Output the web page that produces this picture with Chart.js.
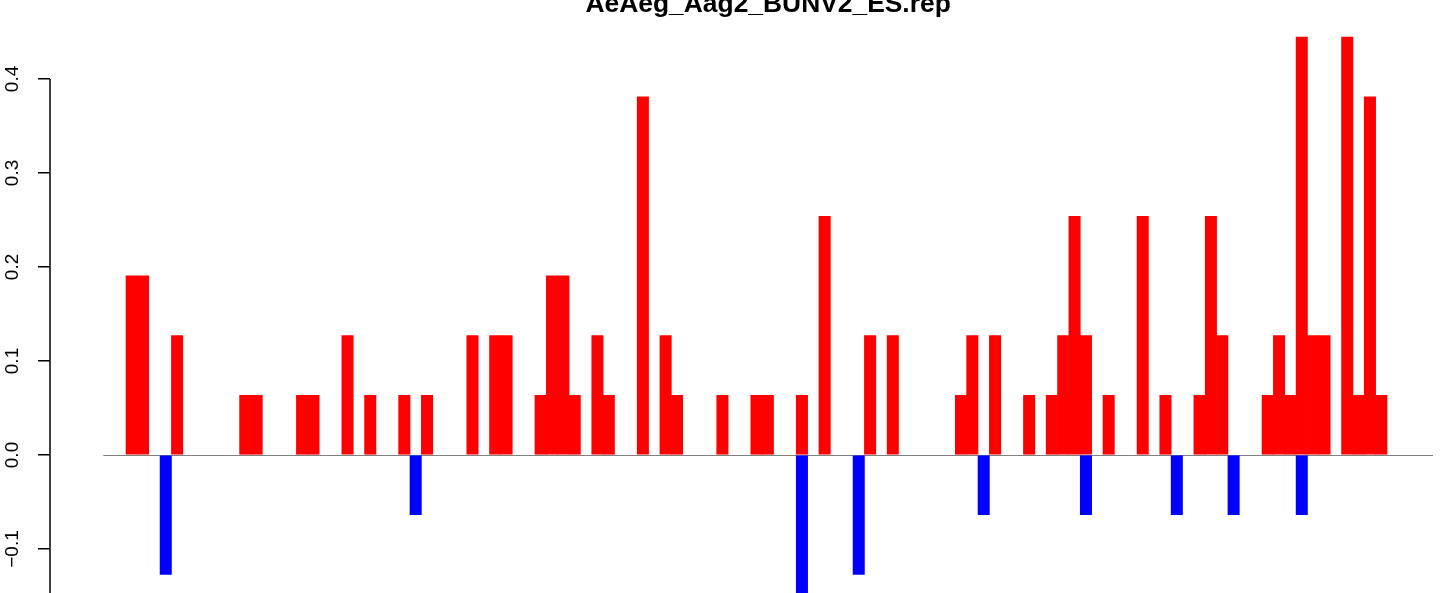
<!DOCTYPE html>
<html>
<head>
<meta charset="utf-8">
<script src="https://cdn.jsdelivr.net/npm/chart.js@4.4.1/dist/chart.umd.min.js"></script>
<style>
  html, body { margin: 0; padding: 0; background: #fff; }
  #wrap { width: 1444px; height: 593px; position: relative; }
</style>
</head>
<body>
<div id="wrap"><canvas id="myChart"></canvas></div>
<script>
const title = 'AeAeg_Aag2_BUNV2_ES.rep';

// one slot per position, 111 slots
const positions = Array.from({length: 111}, (_, i) => i);

// red bars (positive), by slot
const redValues = [
  0.1905, 0.1905, null, null, 0.127, null, null, null, null, null,
  0.0635, 0.0635, null, null, null, 0.0635, 0.0635, null, null, 0.127,
  null, 0.0635, null, null, 0.0635, null, 0.0635, null, null, null,
  0.127, null, 0.127, 0.127, null, null, 0.0635, 0.1905, 0.1905, 0.0635,
  null, 0.127, 0.0635, null, null, 0.381, null, 0.127, 0.0635, null,
  null, null, 0.0635, null, null, 0.0635, 0.0635, null, null, 0.0635,
  null, 0.254, null, null, null, 0.127, null, 0.127, null, null,
  null, null, null, 0.0635, 0.127, null, 0.127, null, null, 0.0635,
  null, 0.0635, 0.127, 0.254, 0.127, null, 0.0635, null, null, 0.254,
  null, 0.0635, null, null, 0.0635, 0.254, 0.127, null, null, null,
  0.0635, 0.127, 0.0635, 0.4445, 0.127, 0.127, null, 0.4445, 0.0635, 0.381,
  0.0635
];

// blue bars (negative), by slot
const blueValues = [
  null, null, null, -0.127, null, null, null, null, null, null,
  null, null, null, null, null, null, null, null, null, null,
  null, null, null, null, null, -0.0635, null, null, null, null,
  null, null, null, null, null, null, null, null, null, null,
  null, null, null, null, null, null, null, null, null, null,
  null, null, null, null, null, null, null, null, null, -0.19,
  null, null, null, null, -0.127, null, null, null, null, null,
  null, null, null, null, null, -0.0635, null, null, null, null,
  null, null, null, null, -0.0635, null, null, null, null, null,
  null, null, -0.0635, null, null, null, null, -0.0635, null, null,
  null, null, null, -0.0635, null, null, null, null, null, null,
  null
];

const yTicks = [-0.1, 0, 0.1, 0.2, 0.3, 0.4];

const FONT = 'Liberation Sans, Arial, Helvetica, sans-serif';

const rPlot = {
  id: 'rPlot',
  beforeDatasetsDraw(chart) {
    const {ctx, chartArea, scales: {x, y}} = chart;
    // zero line, starting two slots before the first bar
    ctx.save();
    ctx.strokeStyle = '#808080';
    ctx.lineWidth = 1;
    ctx.beginPath();
    ctx.moveTo(x.getPixelForValue(positions[0] - 2.5), Math.round(y.getPixelForValue(0)) + 0.5);
    ctx.lineTo(chartArea.right, Math.round(y.getPixelForValue(0)) + 0.5);
    ctx.stroke();
    ctx.restore();
  },
  afterDraw(chart) {
    const {ctx, chartArea, scales: {x, y}} = chart;
    ctx.save();
    // axis line from top tick to bottom
    const ax = chartArea.left;
    ctx.strokeStyle = '#000';
    ctx.lineWidth = 1.5;
    ctx.beginPath();
    ctx.moveTo(ax, y.getPixelForValue(yTicks[yTicks.length - 1]));
    ctx.lineTo(ax, chartArea.bottom);
    ctx.stroke();
    // rotated tick labels
    ctx.fillStyle = '#000';
    ctx.font = '19px ' + FONT;
    ctx.textAlign = 'center';
    ctx.textBaseline = 'middle';
    yTicks.forEach(v => {
      const py = y.getPixelForValue(v);
      ctx.save();
      ctx.translate(ax - 37, py);
      ctx.rotate(-Math.PI / 2);
      ctx.fillText(v.toFixed(1).replace('-', '\u2212'), 0, 0);
      ctx.restore();
    });
    // title, centred over the bar region
    const xl = x.getPixelForValue(positions[0] - 2.5);
    ctx.font = 'bold 26.4px ' + FONT;
    ctx.textBaseline = 'alphabetic';
    ctx.fillText(title, (xl + chartArea.right) / 2, 12);
    ctx.restore();
  }
};

const data = {
  labels: positions,
  datasets: [{
    label: 'up',
    data: redValues,
    backgroundColor: '#ff0000',
    borderWidth: 0,
    barPercentage: 1,
    categoryPercentage: 1
  },
  {
    label: 'down',
    data: blueValues,
    backgroundColor: '#0000ff',
    borderWidth: 0,
    barPercentage: 1,
    categoryPercentage: 1
  }]
};

const config = {
  type: 'bar',
  data,
  options: {
    responsive: true,
    maintainAspectRatio: false,
    animation: false,
    layout: { padding: { left: 0, right: 11, top: 0, bottom: 0 } },
    plugins: {
      legend: { display: false },
      tooltip: { enabled: false },
      title: { display: false }
    },
    scales: {
      x: {
        type: 'linear',
        stacked: true,
        display: false,
        min: -7.19,
        max: 114.55,
        offset: false,
        ticks: { stepSize: 1 }
      },
      y: {
        stacked: true,
        min: -0.1468,
        max: 0.484,
        border: { display: false },
        grid: {
          drawOnChartArea: false,
          drawTicks: true,
          tickLength: 12,
          color: '#000',
          lineWidth: 1.5
        },
        ticks: { display: false },
        afterBuildTicks: s => { s.ticks = yTicks.map(v => ({ value: v })); },
        afterFit: s => { s.width = 50; }
      }
    }
  },
  plugins: [rPlot]
};

var myChart = new Chart(
  document.getElementById('myChart').getContext('2d'),
  config
);
</script>
</body>
</html>
